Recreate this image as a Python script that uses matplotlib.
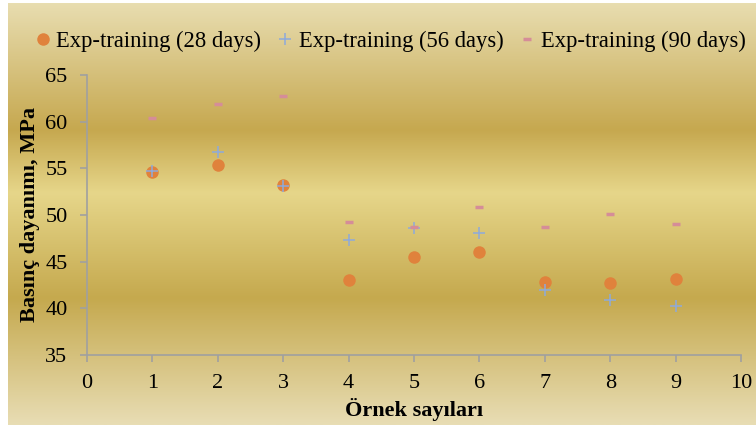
import matplotlib
matplotlib.use("Agg")
import matplotlib.pyplot as plt
import numpy as np
from matplotlib.colors import LinearSegmentedColormap

# sample numbers and compressive strength (MPa)
samples = [1, 2, 3, 4, 5, 6, 7, 8, 9]
d28 = [54.6, 55.4, 53.2, 43.0, 45.5, 46.0, 42.8, 42.75, 43.1]
d56 = [54.7, 56.7, 53.1, 47.3, 48.6, 48.1, 42.0, 40.9, 40.3]
d90 = [60.4, 61.9, 62.7, 49.2, 48.7, 50.9, 48.75, 50.1, 49.0]
labels = ["Exp-training (28 days)", "Exp-training (56 days)", "Exp-training (90 days)"]

plt.rcParams['font.family'] = ['Liberation Serif', 'DejaVu Serif']

W, H = 756, 425
fig = plt.figure(figsize=(W / 100, H / 100), dpi=100)
fig.patch.set_facecolor('white')

# gold gradient background
gold = LinearSegmentedColormap.from_list('gold', [
    (0.00, '#e8ddb0'),
    (0.30, '#c6a84f'),
    (0.45, '#e6d68a'),
    (0.70, '#c5a94e'),
    (1.00, '#e8ddb4'),
])
bg = fig.add_axes([8 / W, 0, 1 - 8 / W, 1 - 3 / H], zorder=-10)
bg.imshow(np.linspace(0, 1, 256).reshape(-1, 1), aspect='auto', cmap=gold,
          extent=[0, 1, 0, 1])
bg.axis('off')

ax = fig.add_axes([87 / W, 1 - 355 / H, (741 - 87) / W, (355 - 75) / H])
ax.set_facecolor('none')

h1, = ax.plot(samples, d28, 'o', color='#e0823c', ms=9, mew=0, label=labels[0])
h2, = ax.plot(samples, d56, '+', color='#8eaadb', ms=8.5, mew=1.1, label=labels[1])
h3, = ax.plot(samples, d90, '_', color='#d58d98', ms=5.5, mew=2.5, label=labels[2])

ax.set_xlim(0, 10)
ax.set_ylim(35, 65)
ax.set_xticks(range(0, 11))
ax.set_yticks(range(35, 66, 5))

for s in ['top', 'right']:
    ax.spines[s].set_visible(False)
for s in ['left', 'bottom']:
    ax.spines[s].set_color('#a0a0a0')
    ax.spines[s].set_linewidth(1.2)
ax.tick_params(direction='out', length=5, width=1.2, color='#a0a0a0',
               labelsize=16, labelcolor='black')
ax.tick_params(axis='y', pad=9)
ax.tick_params(axis='x', pad=9)

ax.set_xlabel('Örnek sayıları', fontsize=16, fontweight='bold', labelpad=3)
ax.set_ylabel('Basınç dayanımı, MPa', fontsize=16, fontweight='bold', labelpad=4)

fig.legend(handles=[h1, h2, h3], loc='center left', bbox_to_anchor=(36 / W, 1 - 41 / H),
           ncol=3, frameon=False, fontsize=16.3, handlelength=0.6, handletextpad=0.3,
           columnspacing=0.75, borderaxespad=0, borderpad=0)

fig.savefig('out.png', dpi=100)
